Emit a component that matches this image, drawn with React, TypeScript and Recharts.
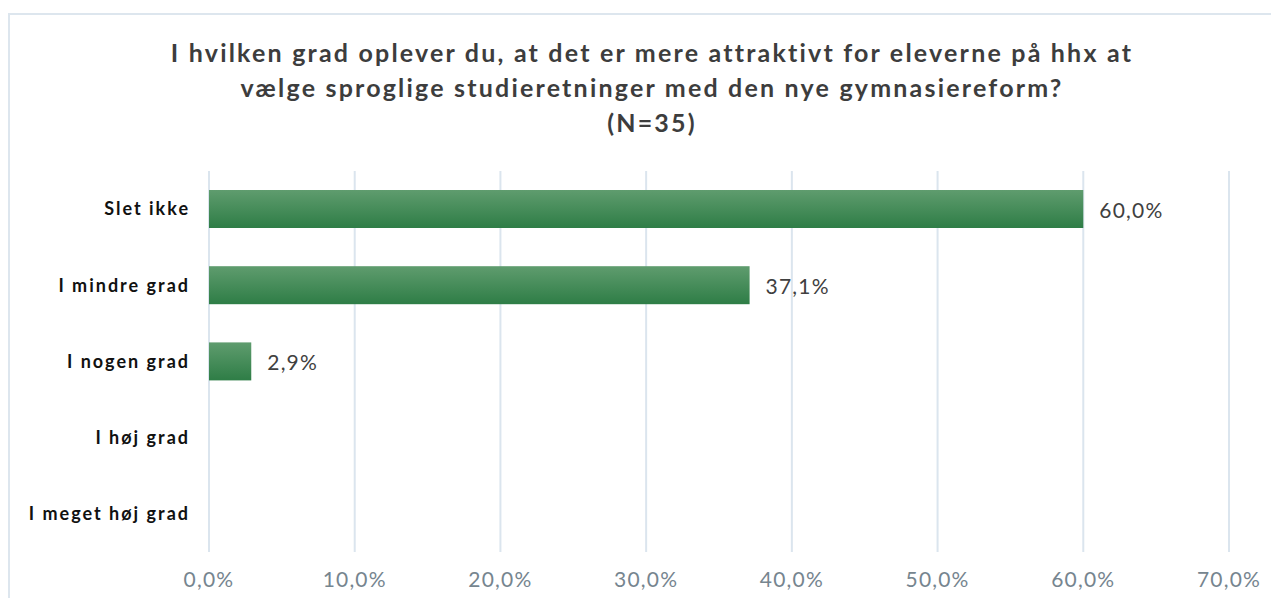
import { BarChart, Bar, XAxis, YAxis, CartesianGrid } from "recharts";

const categories = ["Slet ikke", "I mindre grad", "I nogen grad", "I høj grad", "I meget høj grad"];
const shares = [60.0, 37.1, 2.9, 0, 0];
const xTicks = [0, 10, 20, 30, 40, 50, 60, 70];

const data = categories.map((name, i) => ({ name, value: shares[i] }));

const pct = (v: number) => v.toFixed(1).replace(".", ",") + "%";

const FONT = "Lato, 'Open Sans', sans-serif";

// gradient bar drawn in its own shape so the defs travel with it
const GreenBar = (props: any) => {
  const { x, y, width, height, index } = props;
  if (!width || width <= 0) return null;
  const id = `greenGrad${index}`;
  return (
    <g>
      <defs>
        <linearGradient id={id} x1="0" y1="0" x2="0" y2="1">
          <stop offset="0%" stopColor="#5f9c6e" />
          <stop offset="100%" stopColor="#2e7d46" />
        </linearGradient>
      </defs>
      <rect x={x} y={y} width={width} height={height} fill={`url(#${id})`} />
    </g>
  );
};

const ValueLabel = (props: any) => {
  const { x, y, width, height, value } = props;
  if (!(value > 0)) return null;
  return (
    <text
      x={x + width + 16}
      y={y + height / 2}
      dominantBaseline="central"
      fontSize={21}
      fill="#404040"
      fontFamily={FONT}
      letterSpacing={1.2}
    >
      {pct(value)}
    </text>
  );
};

export default function App() {
  return (
    <div
      style={{
        position: "relative",
        width: 1300,
        height: 600,
        marginTop: 5,
        border: "2px solid #dde6ee",
        boxSizing: "border-box",
        fontFamily: FONT,
      }}
    >
      <div
        style={{
          position: "absolute",
          left: 0,
          width: 1284,
          top: 20,
          textAlign: "center",
          fontWeight: 700,
          fontSize: 25,
          letterSpacing: 2.2,
          lineHeight: "35px",
          color: "#3d3d3d",
        }}
      >
        I hvilken grad oplever du, at det er mere attraktivt for eleverne på hhx at
        <br />
        vælge sproglige studieretninger med den nye gymnasiereform?
        <br />
        (N=35)
      </div>
      <div style={{ position: "absolute", left: 0, top: 0 }}>
        <BarChart
          width={1271}
          height={585}
          data={data}
          layout="vertical"
          margin={{ top: 156, right: 52, left: 0, bottom: 0 }}
        >
          <CartesianGrid horizontal={false} stroke="#dbe5ee" strokeWidth={2} />
          <XAxis
            type="number"
            domain={[0, 70]}
            ticks={xTicks}
            tickFormatter={pct}
            axisLine={false}
            tickLine={false}
            height={48}
            tickMargin={14}
            tick={{ fontSize: 21, fill: "#76858f", fontFamily: FONT, letterSpacing: 1.2 }}
          />
          <YAxis
            type="category"
            dataKey="name"
            width={199}
            axisLine={false}
            tickLine={false}
            tickMargin={13}
            tick={{ fontSize: 18, fontWeight: 700, fill: "#111111", fontFamily: FONT, letterSpacing: 2 }}
          />
          <Bar
            dataKey="value"
            barSize={38}
            fill="#2e7d46"
            shape={GreenBar}
            label={ValueLabel}
            isAnimationActive={false}
          />
        </BarChart>
      </div>
    </div>
  );
}
